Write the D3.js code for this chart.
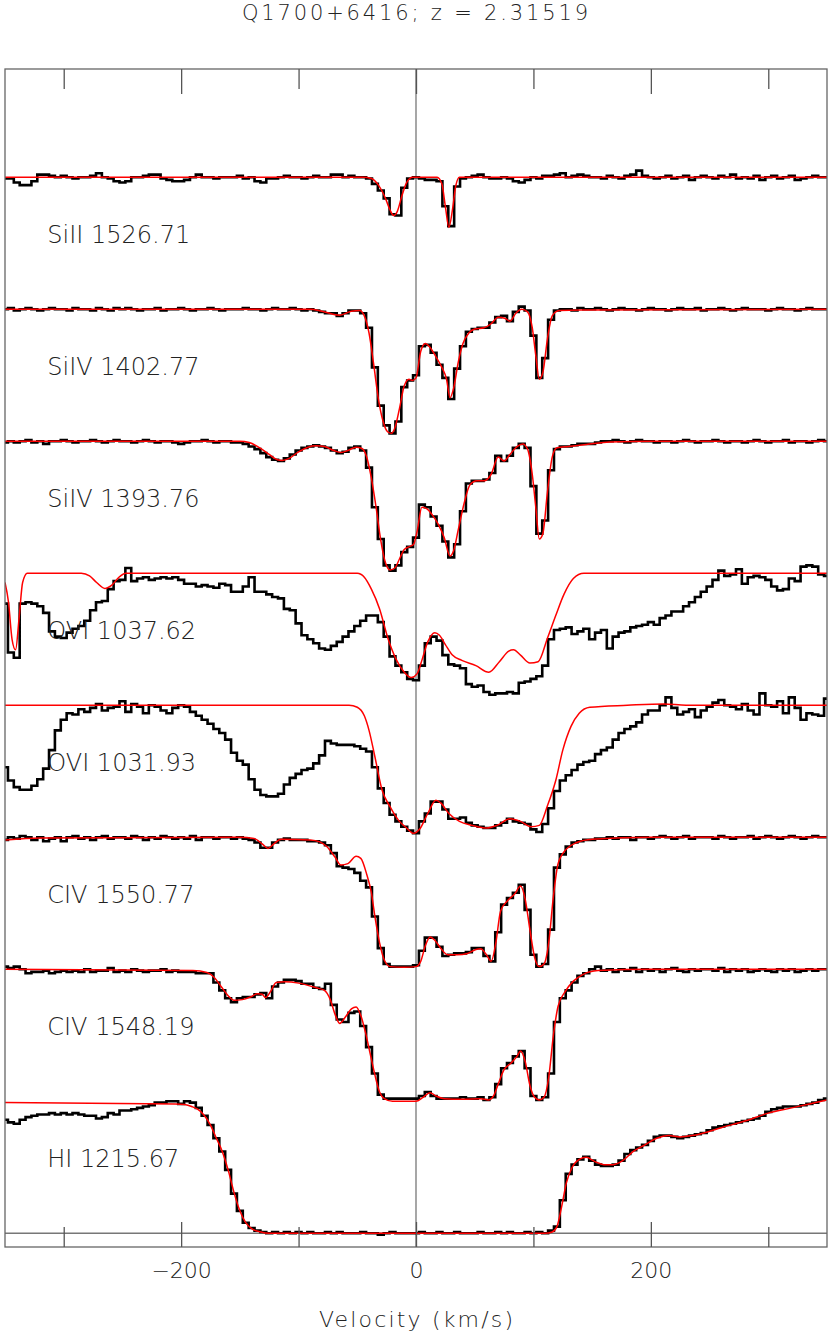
<!DOCTYPE html>
<html>
<head>
<meta charset="utf-8">
<script src="https://cdn.jsdelivr.net/npm/d3@7"></script>
<style>
  body { margin: 0; background: #fff; }
  svg text { font-family: "DejaVu Sans", sans-serif; font-weight: 200; fill: #222; }
</style>
</head>
<body>
<div class="canvas"></div>
<script>
/////////////////////////////////////////////////
// Data
/////////////////////////////////////////////////

const title = "Q1700+6416; z = 2.31519";
const xLabel = "Velocity (km/s)";
const majorTicks = [-200, 0, 200];
const minorTicks = [-300, -100, 100, 300];

// top to bottom
const lineNames = ["SiII 1526.71", "SiIV 1402.77", "SiIV 1393.76", "OVI 1037.62",
  "OVI 1031.93", "CIV 1550.77", "CIV 1548.19", "HI 1215.67"];

// spectra are sampled every 5 km/s from -350 km/s
const vStart = -350;
const vStep = 5;

const fluxSiII = [
  0.99,0.99,0.96,0.94,0.94,0.97,1.02,1.02,1.01,1.00,
  1.01,1.00,0.99,1.00,1.00,1.01,1.03,1.00,0.99,0.97,
  0.96,0.97,1.00,1.00,1.01,1.02,1.02,0.99,0.98,0.97,
  0.97,0.98,1.00,1.02,1.00,1.00,0.99,1.00,1.00,1.00,
  1.01,0.99,1.00,0.97,0.96,0.99,0.99,1.00,1.01,1.00,
  1.00,0.99,1.00,1.01,1.00,1.00,1.02,1.02,1.00,1.01,
  1.00,1.00,0.99,0.95,0.90,0.84,0.72,0.71,0.92,0.99,
  1.00,0.99,0.98,0.98,0.97,0.78,0.63,0.93,0.99,1.00,
  1.01,1.02,1.00,0.99,0.99,1.00,0.99,0.97,0.96,0.98,
  1.00,0.99,1.01,1.01,1.02,1.03,1.00,1.01,1.02,1.01,
  1.00,1.00,0.99,1.01,1.00,0.99,1.01,1.02,1.05,1.01,
  1.00,0.99,1.00,1.01,0.99,1.00,1.01,0.98,1.00,1.01,
  1.00,0.99,1.01,1.00,1.02,0.99,1.00,0.99,1.01,0.98,
  1.00,1.01,0.99,1.00,1.01,0.98,0.99,1.00,1.01,1.00,
  1.00];

const fluxSiIV1402 = [
  1.00,1.01,0.99,1.00,1.01,1.00,0.99,1.00,1.01,1.00,
  1.00,0.99,1.01,1.00,1.00,0.99,1.01,1.00,0.99,1.01,
  1.00,1.01,1.00,0.99,1.00,1.00,1.01,0.99,1.00,1.00,
  1.01,1.00,0.99,1.00,1.00,1.01,1.00,0.99,1.00,1.00,
  1.00,1.01,1.00,1.00,0.99,1.00,1.01,1.00,1.00,1.01,
  1.00,0.99,1.00,0.99,0.98,0.97,0.97,0.95,0.97,0.99,
  0.99,0.97,0.86,0.56,0.27,0.12,0.06,0.15,0.41,0.46,
  0.50,0.72,0.73,0.67,0.58,0.48,0.32,0.55,0.72,0.83,
  0.85,0.86,0.86,0.90,0.94,0.95,0.91,0.98,1.02,0.99,
  0.80,0.48,0.63,0.92,0.99,1.00,1.00,0.99,1.01,1.00,
  1.00,1.01,1.00,0.99,1.00,1.01,1.00,1.00,0.99,1.00,
  1.01,1.00,1.00,0.99,1.00,1.01,1.00,1.00,1.01,0.99,
  1.00,1.00,1.01,1.00,0.99,1.00,1.01,1.00,1.00,1.00,
  0.99,1.00,1.01,1.00,1.00,0.99,1.00,1.01,1.00,1.00,
  1.00];

const fluxSiIV1393 = [
  0.99,1.00,0.99,1.00,1.01,0.99,1.00,0.98,1.00,1.00,
  1.01,1.00,0.99,1.00,1.00,1.01,1.00,0.99,1.00,1.01,
  1.00,1.00,0.99,1.00,1.01,1.00,0.99,1.00,1.00,0.99,
  0.98,0.99,1.00,1.00,1.01,1.00,0.99,1.00,1.00,0.99,
  0.99,0.98,0.96,0.94,0.91,0.88,0.86,0.85,0.87,0.90,
  0.93,0.95,0.96,0.97,0.96,0.95,0.93,0.91,0.92,0.95,
  0.96,0.93,0.80,0.50,0.26,0.06,0.02,0.06,0.16,0.20,
  0.27,0.52,0.50,0.43,0.36,0.24,0.12,0.22,0.47,0.68,
  0.70,0.70,0.71,0.76,0.89,0.85,0.89,0.95,0.98,0.95,
  0.66,0.30,0.40,0.78,0.94,0.96,0.96,0.97,0.98,0.98,
  0.98,0.99,1.00,1.00,1.01,1.00,0.99,1.00,1.01,1.00,
  1.00,0.99,1.00,1.00,0.99,1.00,1.01,1.00,0.99,1.00,
  1.00,1.01,1.00,0.99,1.00,1.00,0.99,1.00,1.01,1.00,
  0.99,1.00,1.00,1.01,0.99,1.00,1.00,0.99,1.00,1.01,
  1.00];

const fluxOVI1037 = [
  0.77,0.40,0.36,0.77,0.78,0.77,0.75,0.70,0.56,0.52,
  0.51,0.55,0.58,0.60,0.64,0.72,0.78,0.79,0.88,0.94,
  0.95,1.04,0.94,0.96,0.97,0.95,0.96,0.97,0.96,0.97,
  0.95,0.92,0.92,0.90,0.91,0.90,0.89,0.92,0.91,0.86,
  0.86,0.90,0.97,0.86,0.86,0.84,0.82,0.81,0.73,0.72,
  0.62,0.53,0.50,0.47,0.43,0.42,0.45,0.48,0.52,0.56,
  0.60,0.64,0.68,0.68,0.63,0.52,0.37,0.30,0.25,0.20,
  0.19,0.30,0.47,0.52,0.49,0.38,0.31,0.30,0.28,0.16,
  0.14,0.15,0.10,0.08,0.09,0.09,0.10,0.09,0.17,0.18,
  0.20,0.22,0.30,0.50,0.57,0.58,0.59,0.54,0.56,0.58,
  0.50,0.55,0.57,0.43,0.52,0.55,0.56,0.59,0.60,0.61,
  0.63,0.61,0.66,0.68,0.71,0.71,0.75,0.78,0.82,0.86,
  0.90,0.95,1.02,0.98,0.99,1.03,0.92,0.97,0.98,0.97,
  0.95,0.90,0.87,0.88,0.96,0.94,1.05,1.06,1.05,0.99,
  0.98];

const fluxOVI1031 = [
  0.53,0.43,0.38,0.36,0.36,0.39,0.44,0.52,0.66,0.81,
  0.89,0.94,0.93,0.97,0.95,0.98,1.01,0.96,0.98,0.99,
  1.03,0.95,1.01,0.99,0.94,1.00,0.99,0.96,0.94,0.98,
  1.00,0.99,0.95,0.92,0.89,0.86,0.82,0.79,0.74,0.64,
  0.58,0.55,0.44,0.36,0.32,0.31,0.31,0.33,0.40,0.45,
  0.48,0.51,0.52,0.56,0.62,0.73,0.71,0.70,0.70,0.70,
  0.69,0.67,0.65,0.53,0.37,0.26,0.17,0.12,0.08,0.05,
  0.03,0.12,0.18,0.27,0.27,0.21,0.14,0.14,0.15,0.11,
  0.09,0.08,0.07,0.07,0.09,0.11,0.14,0.12,0.11,0.10,
  0.06,0.04,0.10,0.22,0.35,0.43,0.47,0.51,0.55,0.57,
  0.58,0.63,0.66,0.68,0.74,0.79,0.82,0.84,0.87,0.93,
  0.96,0.96,1.00,1.06,0.98,0.93,0.95,0.97,0.91,0.96,
  0.99,1.02,1.04,1.00,0.99,0.97,1.01,0.96,0.93,1.09,
  1.00,0.99,1.03,0.94,1.06,0.98,0.89,0.94,0.93,0.92,
  1.05];

const fluxCIV1550 = [
  0.98,1.00,0.99,1.01,1.00,0.98,1.00,0.97,0.99,1.00,
  0.97,1.00,1.01,0.99,1.00,0.98,1.00,1.01,0.99,1.00,
  1.00,0.99,1.01,1.00,0.98,1.00,0.99,1.01,1.00,0.99,
  1.00,0.99,1.01,0.98,1.00,1.00,0.99,1.00,1.00,0.99,
  1.00,0.99,0.98,0.96,0.92,0.92,0.96,0.98,0.99,0.98,
  0.98,0.98,0.97,0.97,0.96,0.94,0.88,0.78,0.77,0.76,
  0.73,0.67,0.62,0.40,0.16,0.04,0.02,0.02,0.02,0.02,
  0.03,0.14,0.24,0.24,0.17,0.10,0.11,0.12,0.12,0.13,
  0.16,0.16,0.10,0.06,0.28,0.49,0.54,0.58,0.64,0.45,
  0.11,0.02,0.04,0.30,0.77,0.87,0.93,0.96,0.97,0.98,
  0.98,0.99,0.99,1.00,0.99,1.00,1.00,0.98,1.00,1.00,
  0.99,1.00,1.01,1.00,0.99,1.00,1.01,0.99,1.00,1.00,
  1.00,0.99,1.01,1.00,0.99,1.00,1.00,1.01,0.99,1.00,
  1.01,1.00,0.99,1.00,1.01,1.00,0.99,1.00,1.01,1.00,
  1.00];

const fluxCIV1548 = [
  1.02,1.01,1.02,1.00,0.97,0.98,0.98,0.99,0.97,0.98,
  0.99,0.98,0.99,0.98,1.00,0.98,0.99,0.99,1.01,0.98,
  0.99,0.98,1.00,0.99,0.98,0.99,0.99,1.00,0.98,0.99,
  0.98,0.98,0.98,0.97,0.97,0.97,0.90,0.84,0.78,0.75,
  0.78,0.79,0.79,0.81,0.82,0.78,0.87,0.90,0.92,0.92,
  0.91,0.89,0.89,0.86,0.85,0.89,0.73,0.62,0.60,0.67,
  0.68,0.57,0.41,0.21,0.05,0.02,0.02,0.02,0.02,0.02,
  0.02,0.04,0.07,0.04,0.02,0.02,0.02,0.02,0.03,0.02,
  0.02,0.03,0.01,0.03,0.13,0.25,0.29,0.34,0.38,0.25,
  0.04,0.01,0.03,0.21,0.60,0.78,0.84,0.90,0.95,0.97,
  1.00,1.02,0.99,1.00,0.98,1.00,0.99,1.01,0.98,1.00,
  0.99,1.00,0.98,1.00,1.01,0.99,0.98,1.00,0.99,1.00,
  1.00,0.99,1.01,0.98,1.00,0.99,1.00,0.98,0.99,1.00,
  0.99,0.98,1.00,0.99,1.00,0.98,0.99,1.00,0.99,1.00,
  1.00];

const fluxHI = [
  0.86,0.84,0.83,0.86,0.88,0.89,0.90,0.90,0.91,0.90,
  0.91,0.90,0.91,0.90,0.89,0.89,0.87,0.88,0.91,0.90,
  0.93,0.93,0.94,0.95,0.96,0.97,0.99,0.99,1.00,1.00,
  0.98,1.00,0.99,0.95,0.89,0.82,0.72,0.62,0.48,0.30,
  0.17,0.08,0.04,0.02,0.01,0.00,0.01,0.00,0.01,0.00,
  0.01,0.00,0.01,0.00,0.00,0.01,0.00,0.01,0.00,0.00,
  0.00,0.01,0.00,0.00,-0.01,0.00,0.01,0.00,0.00,0.00,
  0.00,0.01,0.00,0.00,0.01,0.00,0.00,0.01,0.00,0.00,
  0.00,0.01,0.00,0.00,0.01,0.00,0.01,0.00,0.00,0.01,
  0.00,0.01,0.00,0.02,0.05,0.25,0.45,0.52,0.56,0.58,
  0.55,0.52,0.51,0.51,0.52,0.55,0.60,0.63,0.65,0.67,
  0.70,0.73,0.74,0.74,0.73,0.72,0.73,0.74,0.75,0.76,
  0.78,0.80,0.81,0.82,0.83,0.84,0.85,0.86,0.87,0.89,
  0.92,0.94,0.95,0.96,0.96,0.96,0.97,0.98,0.99,1.01,
  1.02];

// fitted profiles, [velocity, flux]
const modelSiII = [[-350,1],[-45,1],[-38,0.99],[-32,0.94],[-26,0.84],[-22,0.75],[-19,0.71],
  [-16,0.74],[-12,0.86],[-8,0.96],[-3,1],[18,1],[22,0.95],[25,0.78],[28,0.62],[31,0.75],
  [34,0.94],[37,1],[350,1]];

const modelSiIV1402 = [[-350,1],[-90,1],[-80,0.985],[-65,0.955],[-55,0.985],[-48,0.99],
  [-44,0.95],[-40,0.82],[-36,0.58],[-32,0.32],[-28,0.15],[-24,0.07],[-21,0.06],[-18,0.1],
  [-14,0.25],[-10,0.42],[-6,0.47],[-3,0.46],[0,0.48],[4,0.68],[8,0.74],[12,0.71],[17,0.64],
  [22,0.56],[26,0.47],[29,0.33],[32,0.4],[36,0.6],[40,0.74],[45,0.82],[50,0.85],[58,0.86],
  [64,0.89],[70,0.94],[76,0.93],[80,0.91],[85,0.97],[90,1.0],[95,0.98],[99,0.86],[102,0.65],
  [105,0.47],[108,0.52],[112,0.78],[116,0.95],[122,0.99],[140,0.995],[350,1]];

const modelSiIV1393 = [[-350,1],[-150,1],[-142,0.99],[-133,0.95],[-125,0.9],[-118,0.86],
  [-114,0.855],[-108,0.87],[-100,0.92],[-92,0.955],[-85,0.965],[-78,0.96],[-70,0.93],
  [-64,0.915],[-58,0.93],[-51,0.955],[-46,0.945],[-42,0.88],[-38,0.72],[-34,0.5],[-30,0.25],
  [-26,0.08],[-22,0.025],[-18,0.04],[-14,0.11],[-10,0.18],[-6,0.2],[-2,0.22],[1,0.32],
  [5,0.5],[9,0.49],[14,0.44],[19,0.37],[24,0.27],[29,0.13],[32,0.17],[36,0.33],[41,0.53],
  [46,0.67],[52,0.7],[58,0.7],[64,0.75],[70,0.88],[75,0.85],[80,0.9],[86,0.96],[91,0.98],
  [95,0.94],[99,0.75],[102,0.5],[105,0.26],[108,0.3],[112,0.62],[116,0.88],[120,0.95],
  [130,0.96],[145,0.975],[165,0.995],[200,1],[350,1]];

const modelOVI1037 = [[-350,0.93],[-347,0.78],[-344,0.5],[-341,0.42],[-338,0.66],[-335,0.93],
  [-331,1.0],[-285,1.0],[-278,0.98],[-272,0.93],[-265,0.885],[-259,0.91],[-253,0.97],
  [-247,1.0],[-50,1.0],[-44,0.97],[-38,0.88],[-31,0.73],[-24,0.51],[-17,0.35],[-10,0.25],
  [-4,0.21],[1,0.24],[5,0.34],[10,0.48],[16,0.55],[20,0.53],[25,0.46],[31,0.38],[39,0.34],
  [51,0.30],[62,0.25],[71,0.33],[79,0.41],[83,0.42],[89,0.38],[97,0.32],[104,0.33],
  [112,0.51],[119,0.68],[126,0.84],[134,0.96],[143,1.0],[350,1.0]];

const modelOVI1031 = [[-350,1],[-57,1],[-50,0.985],[-44,0.92],[-40,0.81],[-35,0.61],
  [-29,0.36],[-22,0.23],[-15,0.13],[-8,0.07],[-2,0.03],[3,0.06],[10,0.18],[17,0.28],
  [21,0.26],[28,0.18],[37,0.12],[48,0.09],[60,0.07],[69,0.09],[80,0.14],[89,0.12],[98,0.08],
  [105,0.09],[112,0.24],[119,0.43],[125,0.66],[132,0.84],[139,0.94],[148,0.985],[180,1.0],
  [211,1.01],[230,1.0],[350,1.0]];

const modelCIV1550 = [[-350,0.98],[-320,0.995],[-150,1.0],[-138,0.99],[-131,0.95],
  [-126,0.915],[-121,0.95],[-115,0.985],[-90,0.98],[-82,0.965],[-76,0.93],[-69,0.85],
  [-64,0.79],[-58,0.80],[-51,0.856],[-47,0.84],[-42,0.72],[-38,0.58],[-35,0.40],[-31,0.2],
  [-27,0.07],[-22,0.02],[-10,0.015],[0,0.02],[4,0.06],[8,0.18],[12,0.245],[16,0.22],
  [21,0.16],[27,0.11],[35,0.11],[44,0.12],[51,0.15],[55,0.155],[60,0.11],[64,0.06],
  [68,0.2],[72,0.44],[78,0.52],[84,0.57],[89,0.63],[93,0.53],[97,0.3],[101,0.09],
  [105,0.02],[109,0.04],[113,0.2],[117,0.55],[121,0.8],[128,0.91],[137,0.96],[150,0.985],
  [200,1.0],[350,1.0]];

const modelCIV1548 = [[-350,1.0],[-190,0.99],[-178,0.975],[-172,0.94],[-166,0.87],[-160,0.8],
  [-155,0.765],[-148,0.77],[-141,0.79],[-135,0.815],[-131,0.81],[-128,0.785],[-124,0.83],
  [-119,0.9],[-112,0.905],[-100,0.895],[-85,0.86],[-78,0.84],[-73,0.77],[-69,0.66],
  [-65,0.59],[-60,0.64],[-55,0.7],[-51,0.715],[-47,0.65],[-43,0.52],[-39,0.36],[-35,0.2],
  [-31,0.07],[-27,0.02],[-20,0.0],[0,0.0],[6,0.03],[12,0.065],[17,0.04],[24,0.02],
  [40,0.015],[55,0.02],[62,0.01],[66,0.04],[70,0.13],[75,0.24],[81,0.29],[86,0.34],
  [89,0.38],[93,0.3],[97,0.12],[101,0.03],[105,0.01],[109,0.03],[113,0.18],[117,0.5],
  [121,0.72],[127,0.83],[134,0.91],[142,0.96],[155,0.99],[200,1.0],[350,1.0]];

const modelHI = [[-350,0.99],[-205,0.98],[-197,0.975],[-191,0.96],[-186,0.94],[-181,0.9],
  [-175,0.82],[-170,0.72],[-165,0.62],[-160,0.48],[-155,0.31],[-150,0.17],[-145,0.08],
  [-140,0.035],[-133,0.012],[-125,0.0],[110,0.0],[116,0.01],[120,0.05],[124,0.2],[128,0.38],
  [133,0.5],[139,0.56],[145,0.575],[152,0.545],[160,0.52],[168,0.52],[176,0.55],[185,0.62],
  [195,0.67],[205,0.72],[215,0.74],[225,0.73],[235,0.74],[245,0.76],[260,0.8],[280,0.85],
  [300,0.91],[320,0.95],[335,0.98],[350,1.01]];

const fluxes = [fluxSiII, fluxSiIV1402, fluxSiIV1393, fluxOVI1037, fluxOVI1031,
  fluxCIV1550, fluxCIV1548, fluxHI];
const models = [modelSiII, modelSiIV1402, modelSiIV1393, modelOVI1037, modelOVI1031,
  modelCIV1550, modelCIV1548, modelHI];

// each panel is shifted up by one continuum unit
const panels = lineNames.map((name, i) => ({
  name,
  offset: lineNames.length - 1 - i,
  flux: fluxes[i],
  model: models[i],
}));

/////////////////////////////////////////////////
// Setup
/////////////////////////////////////////////////

const width = 830;
const height = 1337;
const frameTop = 69;
const frameBottom = 1247;

const x = d3.scaleLinear().domain([-350, 350]).range([5, 827]);
const y = d3.scaleLinear().domain([-0.104, 8.82]).range([frameBottom, frameTop]);

const svg = d3.select(".canvas").append("svg")
  .attr("width", width)
  .attr("height", height);

svg.append("defs").append("clipPath").attr("id", "frame")
  .append("rect")
  .attr("x", x(-350)).attr("y", frameTop)
  .attr("width", x(350) - x(-350)).attr("height", frameBottom - frameTop);

const graph = svg.append("g").attr("clip-path", "url(#frame)");

// zero velocity and zero flux reference lines
graph.append("line")
  .attr("x1", x(0)).attr("x2", x(0))
  .attr("y1", frameTop).attr("y2", frameBottom)
  .attr("stroke", "#777").attr("stroke-width", 1.3);

graph.append("line")
  .attr("x1", x(-350)).attr("x2", x(350))
  .attr("y1", y(0)).attr("y2", y(0))
  .attr("stroke", "#777").attr("stroke-width", 1.3);

/////////////////////////////////////////////////
// Spectra
/////////////////////////////////////////////////

panels.forEach((p) => {
  const dataLine = d3.line()
    .x((d, i) => x(vStart + i * vStep))
    .y((d) => y(p.offset + d))
    .curve(d3.curveStep);

  const modelLine = d3.line()
    .x((d) => x(d[0]))
    .y((d) => y(p.offset + d[1]))
    .curve(d3.curveMonotoneX);

  graph.append("path")
    .attr("d", dataLine(p.flux))
    .attr("fill", "none")
    .attr("stroke", "#000")
    .attr("stroke-width", 2.6);

  graph.append("path")
    .attr("d", modelLine(p.model))
    .attr("fill", "none")
    .attr("stroke", "#ff0000")
    .attr("stroke-width", 1.5);

  svg.append("text")
    .attr("x", x(-314))
    .attr("y", y(p.offset + 0.5))
    .attr("font-size", 24)
    .text(p.name);
});

/////////////////////////////////////////////////
// Axes
/////////////////////////////////////////////////

svg.append("rect")
  .attr("x", x(-350)).attr("y", frameTop)
  .attr("width", x(350) - x(-350)).attr("height", frameBottom - frameTop)
  .attr("fill", "none").attr("stroke", "#666").attr("stroke-width", 1.3);

function styleAxis(g) {
  g.select(".domain").remove();
  g.selectAll(".tick line").attr("stroke", "#555").attr("stroke-width", 1.3);
  g.selectAll(".tick text")
    .attr("font-size", 22)
    .attr("fill", "#222")
    .style("font-family", '"DejaVu Sans", sans-serif')
    .style("font-weight", 200);
}

svg.append("g")
  .attr("transform", `translate(0,${frameBottom})`)
  .call(d3.axisBottom(x).tickValues(majorTicks).tickSize(-25).tickPadding(15))
  .call(styleAxis);

svg.append("g")
  .attr("transform", `translate(0,${frameBottom})`)
  .call(d3.axisBottom(x).tickValues(minorTicks).tickSize(-20).tickFormat(""))
  .call(styleAxis);

svg.append("g")
  .attr("transform", `translate(0,${frameTop})`)
  .call(d3.axisTop(x).tickValues(majorTicks).tickSize(-25).tickFormat(""))
  .call(styleAxis);

svg.append("g")
  .attr("transform", `translate(0,${frameTop})`)
  .call(d3.axisTop(x).tickValues(minorTicks).tickSize(-20).tickFormat(""))
  .call(styleAxis);

svg.append("text")
  .attr("x", width / 2).attr("y", 20)
  .attr("text-anchor", "middle")
  .attr("font-size", 21)
  .attr("textLength", 346)
  .attr("lengthAdjust", "spacing")
  .text(title);

svg.append("text")
  .attr("x", x(0)).attr("y", 1327)
  .attr("text-anchor", "middle")
  .attr("font-size", 22)
  .attr("textLength", 194)
  .attr("lengthAdjust", "spacing")
  .text(xLabel);
</script>
</body>
</html>
